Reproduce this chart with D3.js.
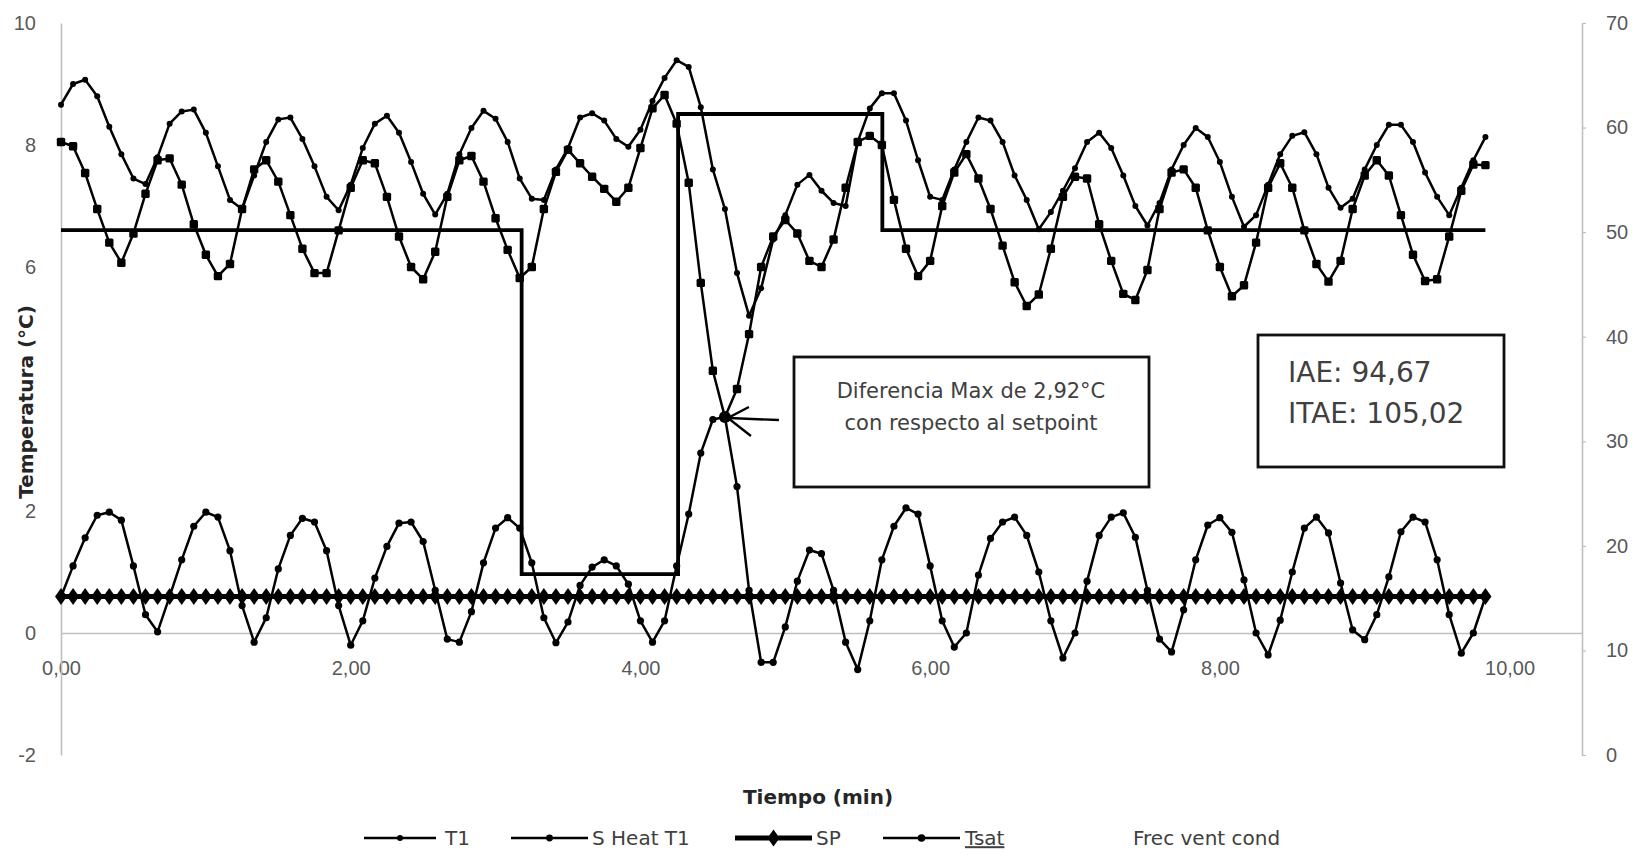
<!DOCTYPE html>
<html lang="es">
<head>
<meta charset="UTF-8">
<title>Temperatura vs Tiempo</title>
<script src="https://d3js.org/d3.v7.min.js"></script>
<style>
  body { margin: 0; background: #fff; }
  svg { font-family: "DejaVu Sans", sans-serif; }
  .tick text { fill: #595959; font-size: 20px; }
  .axis .domain { stroke: #bfbfbf; stroke-width: 1.6; }
  .axis .tick line { stroke: #bfbfbf; stroke-width: 1.2; }
  .title { font-weight: bold; font-size: 20px; fill: #262626; }
  .note { font-size: 21px; fill: #404040; }
  .legend text { font-size: 20px; fill: #404040; }
</style>
</head>
<body>
<svg id="chart" width="1650" height="855"></svg>
<script>
// sample times (s), one reading every 5 s
const timeSec = [
  0,5,10,15,20,25,30,35,40,45,50,55,60,65,70,75,80,85,90,95,
  100,105,110,115,120,125,130,135,140,145,150,155,160,165,170,175,180,185,190,195,
  200,205,210,215,220,225,230,235,240,245,250,255,260,265,270,275,280,285,290,295,
  300,305,310,315,320,325,330,335,340,345,350,355,360,365,370,375,380,385,390,395,
  400,405,410,415,420,425,430,435,440,445,450,455,460,465,470,475,480,485,490,495,
  500,505,510,515,520,525,530,535,540,545,550,555,560,565,570,575,580,585,590
];

const t1Values = [
  8.66,9.00,9.07,8.80,8.30,7.85,7.45,7.36,7.80,8.35,
  8.55,8.58,8.20,7.65,7.10,6.95,7.50,8.05,8.42,8.45,
  8.10,7.65,7.15,6.93,7.35,7.95,8.35,8.48,8.20,7.72,
  7.20,6.86,7.20,7.85,8.28,8.56,8.43,8.05,7.45,7.12,
  7.10,7.60,7.95,8.45,8.52,8.40,8.10,7.97,8.25,8.72,
  9.10,9.39,9.28,8.62,7.60,6.95,5.90,5.20,5.65,6.45,
  6.85,7.35,7.51,7.25,7.05,7.00,8.05,8.60,8.85,8.85,
  8.40,7.75,7.15,7.10,7.60,8.05,8.45,8.40,8.05,7.50,
  7.10,6.62,6.90,7.25,7.62,8.05,8.20,7.95,7.50,7.00,
  6.68,7.05,7.60,8.00,8.28,8.13,7.72,7.15,6.66,6.85,
  7.35,7.85,8.15,8.21,7.85,7.30,6.97,7.12,7.60,8.00,
  8.33,8.33,8.05,7.55,7.15,6.85,7.30,7.75,8.13
];

const sHeatValues = [
  0.59,1.10,1.56,1.93,1.98,1.85,1.10,0.30,0.02,0.60,
  1.20,1.75,1.98,1.90,1.35,0.45,-0.15,0.25,1.05,1.60,
  1.88,1.82,1.35,0.45,-0.20,0.20,0.90,1.42,1.80,1.82,
  1.50,0.70,-0.10,-0.15,0.35,1.15,1.72,1.89,1.72,1.15,
  0.25,-0.16,0.18,0.78,1.08,1.20,1.10,0.80,0.20,-0.15,
  0.20,1.10,1.95,2.95,3.50,3.54,2.40,0.70,-0.48,-0.48,
  0.10,0.85,1.36,1.30,0.70,-0.15,-0.60,0.20,1.20,1.75,
  2.05,1.95,1.10,0.20,-0.23,0.00,0.95,1.55,1.82,1.90,
  1.60,1.00,0.20,-0.41,0.00,0.85,1.60,1.90,1.97,1.57,
  0.70,-0.10,-0.31,0.38,1.20,1.77,1.89,1.65,0.87,0.00,
  -0.36,0.21,1.00,1.72,1.90,1.64,0.82,0.05,-0.11,0.30,
  0.92,1.66,1.90,1.82,1.20,0.30,-0.33,0.00,0.59
];

const spValues = [
  0.6,0.6,0.6,0.6,0.6,0.6,0.6,0.6,0.6,0.6,
  0.6,0.6,0.6,0.6,0.6,0.6,0.6,0.6,0.6,0.6,
  0.6,0.6,0.6,0.6,0.6,0.6,0.6,0.6,0.6,0.6,
  0.6,0.6,0.6,0.6,0.6,0.6,0.6,0.6,0.6,0.6,
  0.6,0.6,0.6,0.6,0.6,0.6,0.6,0.6,0.6,0.6,
  0.6,0.6,0.6,0.6,0.6,0.6,0.6,0.6,0.6,0.6,
  0.6,0.6,0.6,0.6,0.6,0.6,0.6,0.6,0.6,0.6,
  0.6,0.6,0.6,0.6,0.6,0.6,0.6,0.6,0.6,0.6,
  0.6,0.6,0.6,0.6,0.6,0.6,0.6,0.6,0.6,0.6,
  0.6,0.6,0.6,0.6,0.6,0.6,0.6,0.6,0.6,0.6,
  0.6,0.6,0.6,0.6,0.6,0.6,0.6,0.6,0.6,0.6,
  0.6,0.6,0.6,0.6,0.6,0.6,0.6,0.6,0.6
];

const tsatValues = [
  8.05,7.98,7.54,6.95,6.40,6.07,6.55,7.20,7.75,7.78,
  7.35,6.70,6.20,5.85,6.05,6.95,7.60,7.75,7.40,6.85,
  6.30,5.90,5.90,6.60,7.30,7.75,7.70,7.15,6.50,6.00,
  5.80,6.25,7.15,7.75,7.82,7.40,6.80,6.28,5.82,6.00,
  6.95,7.56,7.92,7.70,7.48,7.28,7.07,7.30,7.95,8.60,
  8.82,8.35,7.38,5.74,4.30,3.54,4.00,4.90,6.00,6.50,
  6.77,6.55,6.10,6.00,6.45,7.30,8.05,8.15,8.00,7.10,
  6.30,5.85,6.10,7.00,7.55,7.85,7.45,6.95,6.35,5.75,
  5.36,5.55,6.30,7.15,7.48,7.45,6.70,6.10,5.56,5.46,
  5.95,6.95,7.55,7.60,7.30,6.60,6.00,5.52,5.70,6.40,
  7.30,7.70,7.30,6.60,6.05,5.76,6.10,6.95,7.50,7.75,
  7.50,6.85,6.20,5.77,5.80,6.50,7.25,7.68,7.67
];

// condenser fan frequency (right axis), change points in minutes
const fanTimes  = [0, 3.18, 3.18, 4.26, 4.26, 5.67, 5.67, 9.833];
const fanValues = [50.2, 50.2, 17.3, 17.3, 61.3, 61.3, 50.2, 50.2];

const xTicks = [0, 2, 4, 6, 8, 10];
const yLeftTicks = [-2, 0, 2, 4, 6, 8, 10];
const yRightTicks = [0, 10, 20, 30, 40, 50, 60, 70];

const seriesNames = ["T1", "S Heat T1", "SP", "Tsat", "Frec vent cond"];

const svg = d3.select("#chart");
const minutes = timeSec.map(s => s / 60);

const x = d3.scaleLinear().domain([0, 10.5]).range([61, 1582]);
const yL = d3.scaleLinear().domain([-2, 10]).range([755, 23]);
const yR = d3.scaleLinear().domain([0, 70]).range([755, 23]);

// axes
svg.append("g").attr("class", "axis")
  .attr("transform", `translate(0,${yL(0)})`)
  .call(d3.axisBottom(x).tickValues(xTicks).tickSize(0).tickSizeOuter(0).tickPadding(28)
    .tickFormat(d => d.toFixed(2).replace(".", ",")));

svg.append("g").attr("class", "axis")
  .attr("transform", `translate(${x(0)},0)`)
  .call(d3.axisLeft(yL).tickValues(yLeftTicks).tickSize(0).tickSizeOuter(0).tickPadding(25)
    .tickFormat(d => String(d)));

svg.append("g").attr("class", "axis")
  .attr("transform", `translate(${x.range()[1]},0)`)
  .call(d3.axisRight(yR).tickValues(yRightTicks).tickSize(4).tickSizeOuter(0).tickPadding(20)
    .tickFormat(d => String(d)));

// axis titles
const yTitle = svg.append("g").attr("transform", "translate(26,402) rotate(-90)");
yTitle.append("rect").attr("x", -88).attr("y", -14).attr("width", 176).attr("height", 28).attr("fill", "#fff");
yTitle.append("text").attr("class", "title").attr("text-anchor", "middle").attr("dy", "0.36em")
  .text("Temperatura (°C)");

svg.append("text").attr("class", "title").attr("x", 818).attr("y", 797)
  .attr("text-anchor", "middle").attr("dy", "0.36em").text("Tiempo (min)");

// lines
const lineL = d3.line().x((d, i) => x(minutes[i])).y(d => yL(d));

svg.append("path").datum(fanValues)
  .attr("d", d3.line().x((d, i) => x(fanTimes[i])).y(d => yR(d)))
  .attr("fill", "none").attr("stroke", "#000").attr("stroke-width", 3.8);

function drawSeries(values, width, markerR, square) {
  svg.append("path").datum(values).attr("d", lineL)
    .attr("fill", "none").attr("stroke", "#000").attr("stroke-width", width)
    .attr("stroke-linejoin", "round");
  const g = svg.append("g");
  if (square) {
    g.selectAll("rect").data(values).join("rect")
      .attr("x", (d, i) => x(minutes[i]) - markerR).attr("y", d => yL(d) - markerR)
      .attr("width", markerR * 2).attr("height", markerR * 2).attr("rx", 1.5)
      .attr("fill", "#000");
  } else {
    g.selectAll("circle").data(values).join("circle")
      .attr("cx", (d, i) => x(minutes[i])).attr("cy", d => yL(d))
      .attr("r", markerR).attr("fill", "#000");
  }
}

drawSeries(t1Values, 2.5, 3.0, false);
drawSeries(tsatValues, 2.5, 4.2, true);
drawSeries(sHeatValues, 2.5, 3.6, false);

const diamond = "M0,-8.5L6,0L0,8.5L-6,0Z";
svg.append("path").datum(spValues).attr("d", lineL)
  .attr("fill", "none").attr("stroke", "#000").attr("stroke-width", 5);
svg.append("g").selectAll("path").data(spValues).join("path")
  .attr("d", diamond)
  .attr("transform", (d, i) => `translate(${x(minutes[i])},${yL(d)})`)
  .attr("fill", "#000");

// annotation: max difference
const tipX = x(minutes[55]), tipY = yL(sHeatValues[55]);
svg.append("circle").attr("cx", tipX).attr("cy", tipY).attr("r", 6).attr("fill", "#000");
svg.append("line").attr("x1", tipX + 54).attr("y1", tipY + 3).attr("x2", tipX + 4).attr("y2", tipY + 1)
  .attr("stroke", "#000").attr("stroke-width", 2.4);
svg.append("path")
  .attr("d", `M${tipX + 24},${tipY - 10}L${tipX + 3},${tipY + 1}L${tipX + 26},${tipY + 19}`)
  .attr("fill", "none").attr("stroke", "#000").attr("stroke-width", 2.4);

svg.append("rect").attr("x", 794).attr("y", 357).attr("width", 355).attr("height", 130)
  .attr("fill", "#fff").attr("stroke", "#111").attr("stroke-width", 2.8);
svg.append("text").attr("class", "note").attr("x", 971).attr("y", 390).attr("dy", "0.36em")
  .attr("text-anchor", "middle").text("Diferencia Max de 2,92°C");
svg.append("text").attr("class", "note").attr("x", 971).attr("y", 422).attr("dy", "0.36em")
  .attr("text-anchor", "middle").text("con respecto al setpoint");

// annotation: performance indices
svg.append("rect").attr("x", 1258).attr("y", 335).attr("width", 246).attr("height", 132)
  .attr("fill", "#fff").attr("stroke", "#111").attr("stroke-width", 2.8);
svg.append("text").attr("class", "note").style("font-size", "28px").attr("x", 1288).attr("y", 372)
  .attr("dy", "0.36em").text("IAE: 94,67");
svg.append("text").attr("class", "note").style("font-size", "28px").attr("x", 1288).attr("y", 413)
  .attr("dy", "0.36em").text("ITAE: 105,02");

// legend
const legendItems = [
  { name: seriesNames[0], x0: 364, x1: 436, tx: 445, w: 2.5, mark: "dot", r: 3.0 },
  { name: seriesNames[1], x0: 511, x1: 588, tx: 592, w: 2.5, mark: "dot", r: 3.4 },
  { name: seriesNames[2], x0: 735, x1: 812, tx: 816, w: 5, mark: "diamond" },
  { name: seriesNames[3], x0: 883, x1: 960, tx: 965, w: 2.5, mark: "dot", r: 3.8 },
  { name: seriesNames[4], x0: null, tx: 1133 }
];
const legendY = 838;
const legend = svg.append("g").attr("class", "legend");
legendItems.forEach(it => {
  if (it.x0 !== null) {
    legend.append("line").attr("x1", it.x0).attr("x2", it.x1).attr("y1", legendY).attr("y2", legendY)
      .attr("stroke", "#000").attr("stroke-width", it.w);
    const cx = (it.x0 + it.x1) / 2;
    if (it.mark === "dot") {
      legend.append("circle").attr("cx", cx).attr("cy", legendY).attr("r", it.r).attr("fill", "#000");
    } else {
      legend.append("path").attr("d", diamond).attr("transform", `translate(${cx},${legendY})`).attr("fill", "#000");
    }
  }
  const t = legend.append("text").attr("x", it.tx).attr("y", legendY).attr("dy", "0.36em").text(it.name);
  if (it.name === "Tsat") t.style("text-decoration", "underline");
});
</script>
</body>
</html>
